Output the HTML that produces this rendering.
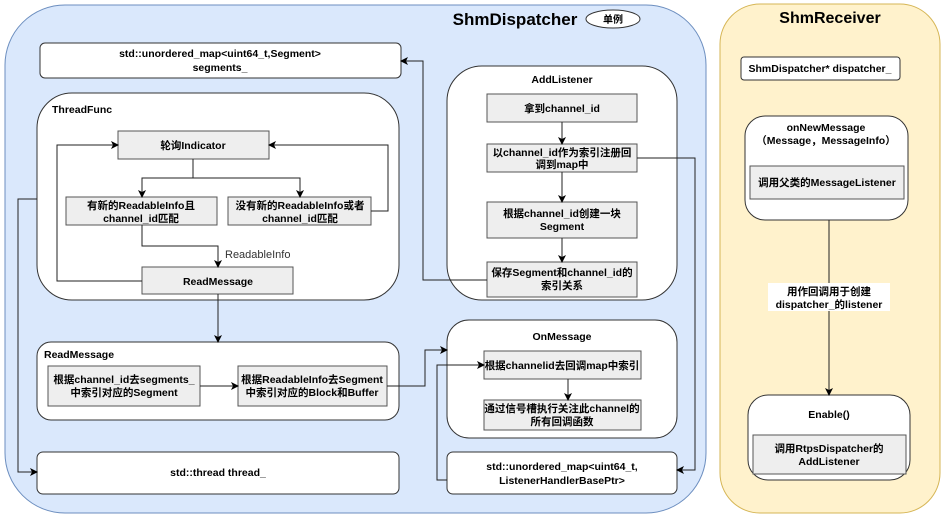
<!DOCTYPE html>
<html><head><meta charset="utf-8"><style>
html,body{margin:0;padding:0;background:#fff;}
svg text{font-family:"Liberation Sans","Noto Sans CJK SC",sans-serif;font-size:10.5px;font-weight:bold;fill:#000;}
</style></head><body>
<svg width="945" height="519" viewBox="0 0 945 519" xmlns="http://www.w3.org/2000/svg">
<defs><marker id="a" markerWidth="8" markerHeight="8" refX="7" refY="4" orient="auto" markerUnits="userSpaceOnUse"><path d="M0,0 L8,4 L0,8 L2,4 z" fill="#000"/></marker></defs>
<g stroke-width="1">
<rect x="5" y="5" width="701" height="508" rx="60" fill="#dae8fc" stroke="#6c8ebf"/>
<rect x="720" y="4" width="220" height="509" rx="40" fill="#fff2cc" stroke="#d6b656"/>
</g>
<text x="515" y="25" text-anchor="middle" style="font-size:17px">ShmDispatcher</text>
<ellipse cx="613" cy="19" rx="27" ry="9" fill="#fff" stroke="#333"/>
<text x="613" y="23" text-anchor="middle" style="font-size:10px">单例</text>
<text x="830" y="23" text-anchor="middle" style="font-size:16px">ShmReceiver</text>

<g fill="#fff" stroke="#333">
<rect x="40" y="43" width="361" height="35" rx="5"/>
<rect x="37" y="93" width="362" height="207" rx="35"/>
<rect x="447" y="66" width="230" height="234" rx="35"/>
<rect x="37" y="342" width="362" height="78" rx="14"/>
<rect x="447" y="320" width="230" height="118" rx="22"/>
<rect x="37" y="452" width="362" height="42" rx="6"/>
<rect x="447" y="452" width="230" height="42" rx="6"/>
<rect x="741" y="57" width="159" height="23" rx="3"/>
<rect x="745" y="116" width="163" height="104" rx="20"/>
<rect x="748" y="395" width="162" height="85" rx="20"/>
</g>
<g fill="#eeeeee" stroke="#555">
<rect x="118" y="131" width="151" height="28"/>
<rect x="66" y="197" width="151" height="28"/>
<rect x="228" y="197" width="143" height="28"/>
<rect x="142" y="267" width="151" height="27"/>
<rect x="487" y="94" width="150" height="28"/>
<rect x="487" y="144" width="150" height="28"/>
<rect x="487" y="202" width="150" height="36"/>
<rect x="487" y="262" width="150" height="35"/>
<rect x="48" y="366" width="152" height="40"/>
<rect x="238" y="366" width="149" height="40"/>
<rect x="484" y="351" width="157" height="28"/>
<rect x="484" y="400" width="157" height="30"/>
<rect x="750" y="166" width="154" height="33"/>
<rect x="753" y="435" width="153" height="39"/>
</g>

<g fill="none" stroke="#222" marker-end="url(#a)">
<path d="M193,159 V178 H142 V197"/>
<path d="M193,178 H300 V197"/>
<path d="M371,211 H388 V145 H269"/>
<path d="M142,281 H57 V145 H118"/>
<path d="M142,225 V246 H218 V267"/>
<path d="M218,294 V342"/>
<path d="M37,199 H18 V472 H37"/>
<path d="M562,122 V144"/>
<path d="M562,172 V202"/>
<path d="M562,238 V262"/>
<path d="M637,158 H695 V470 H677"/>
<path d="M487,280 H423 V61 H401"/>
<path d="M200,386 H238"/>
<path d="M387,386 H425 V350 H447"/>
<path d="M568,379 V400"/>
<path d="M447,480 H437 V365 H484"/>
<path d="M829,220 V395"/>
</g>
<rect x="768" y="283" width="122" height="28" fill="#fff"/>

<text x="220" y="57" text-anchor="middle">std::unordered_map&lt;uint64_t,Segment&gt;</text>
<text x="220" y="71" text-anchor="middle">segments_</text>
<text x="52" y="113">ThreadFunc</text>
<text x="193" y="149" text-anchor="middle">轮询Indicator</text>
<text x="141" y="209" text-anchor="middle">有新的ReadableInfo且</text>
<text x="141" y="222" text-anchor="middle">channel_id匹配</text>
<text x="300" y="209" text-anchor="middle">没有新的ReadableInfo或者</text>
<text x="300" y="222" text-anchor="middle">channel_id匹配</text>
<text x="225" y="258" style="font-weight:normal;font-size:11px;fill:#333">ReadableInfo</text>
<text x="218" y="285" text-anchor="middle">ReadMessage</text>

<text x="562" y="83" text-anchor="middle">AddListener</text>
<text x="562" y="112" text-anchor="middle">拿到channel_id</text>
<text x="562" y="156" text-anchor="middle">以channel_id作为索引注册回</text>
<text x="562" y="168" text-anchor="middle">调到map中</text>
<text x="562" y="217" text-anchor="middle">根据channel_id创建一块</text>
<text x="562" y="230" text-anchor="middle">Segment</text>
<text x="562" y="276" text-anchor="middle">保存Segment和channel_id的</text>
<text x="562" y="289" text-anchor="middle">索引关系</text>

<text x="44" y="358">ReadMessage</text>
<text x="124" y="383" text-anchor="middle">根据channel_id去segments_</text>
<text x="124" y="396" text-anchor="middle">中索引对应的Segment</text>
<text x="312" y="383" text-anchor="middle">根据ReadableInfo去Segment</text>
<text x="312" y="396" text-anchor="middle">中索引对应的Block和Buffer</text>

<text x="562" y="340" text-anchor="middle">OnMessage</text>
<text x="562" y="369" text-anchor="middle">根据channelid去回调map中索引</text>
<text x="562" y="412" text-anchor="middle">通过信号槽执行关注此channel的</text>
<text x="562" y="425" text-anchor="middle">所有回调函数</text>
<text x="218" y="476" text-anchor="middle">std::thread thread_</text>
<text x="562" y="470" text-anchor="middle">std::unordered_map&lt;uint64_t,</text>
<text x="562" y="484" text-anchor="middle">ListenerHandlerBasePtr&gt;</text>

<text x="820" y="72" text-anchor="middle">ShmDispatcher* dispatcher_</text>
<text x="826" y="131" text-anchor="middle">onNewMessage</text>
<text x="826" y="144" text-anchor="middle">（Message，MessageInfo）</text>
<text x="827" y="186" text-anchor="middle">调用父类的MessageListener</text>
<text x="829" y="295" text-anchor="middle">用作回调用于创建</text>
<text x="829" y="308" text-anchor="middle">dispatcher_的listener</text>
<text x="829" y="418" text-anchor="middle">Enable()</text>
<text x="829" y="452" text-anchor="middle">调用RtpsDispatcher的</text>
<text x="829" y="465" text-anchor="middle">AddListener</text>
</svg>
</body></html>
